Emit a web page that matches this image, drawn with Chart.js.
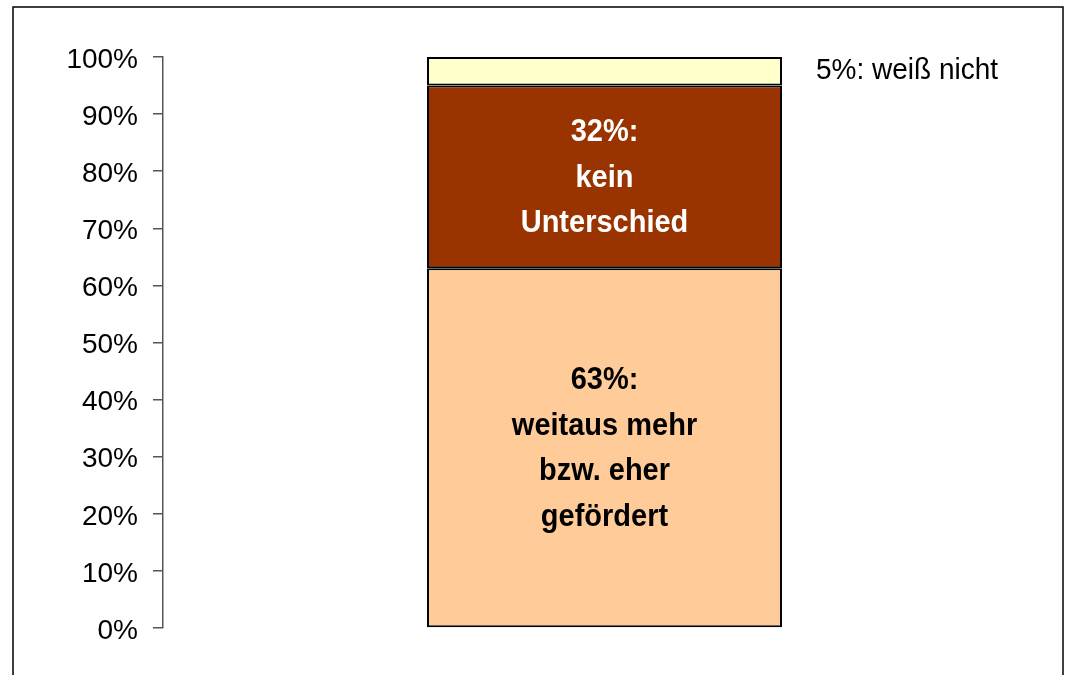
<!DOCTYPE html>
<html>
<head>
<meta charset="utf-8">
<script src="https://cdn.jsdelivr.net/npm/chart.js@4"></script>
<style>
  html, body { margin: 0; padding: 0; background: #fff; }
  #wrap { width: 1065px; height: 675px; position: relative; }
</style>
</head>
<body>
<div id="wrap"><canvas id="c" width="1065" height="675"></canvas></div>
<script>
const categories = [''];
const seriesNames = ['weitaus mehr bzw. eher gefördert', 'kein Unterschied', 'weiß nicht'];
const valuesGefoerdert = [63];
const valuesKeinUnterschied = [32];
const valuesWeissNicht = [5];
const insideLabelsGefoerdert = ['63%:', 'weitaus mehr', 'bzw. eher', 'gefördert'];
const insideLabelsKeinUnterschied = ['32%:', 'kein', 'Unterschied'];
const outsideLabelWeissNicht = '5%: weiß nicht';
const yTicks = [0, 10, 20, 30, 40, 50, 60, 70, 80, 90, 100];

const FONT = '"Liberation Sans", Arial, sans-serif';

const framePlugin = {
  id: 'frame',
  beforeDraw(chart) {
    const ctx = chart.ctx;
    ctx.save();
    ctx.strokeStyle = '#000';
    ctx.lineWidth = 1.5;
    ctx.beginPath();
    ctx.moveTo(13, 680);
    ctx.lineTo(13, 7);
    ctx.lineTo(1063, 7);
    ctx.lineTo(1063, 680);
    ctx.stroke();
    ctx.restore();
  }
};

function stretchedText(ctx, text, x, y, sy) {
  ctx.save();
  ctx.translate(x, y);
  ctx.scale(1, sy);
  ctx.fillText(text, 0, 0);
  ctx.restore();
}

const labelPlugin = {
  id: 'segLabels',
  afterDatasetsDraw(chart) {
    const ctx = chart.ctx;
    ctx.save();
    ctx.textBaseline = 'middle';
    chart.data.datasets.forEach((ds, i) => {
      const meta = chart.getDatasetMeta(i);
      meta.data.forEach((el) => {
        const cy = (el.y + el.base) / 2;
        if (ds.insideLines) {
          ctx.font = 'bold 29px ' + FONT;
          ctx.fillStyle = ds.textColor;
          ctx.textAlign = 'center';
          const n = ds.insideLines.length;
          const lh = 45.5;
          ds.insideLines.forEach((t, k) => {
            stretchedText(ctx, t, el.x, cy + (k - (n - 1) / 2) * lh + 1, 1.1);
          });
        }
        if (ds.outsideLabel) {
          ctx.font = '28px ' + FONT;
          ctx.fillStyle = '#000';
          ctx.textAlign = 'left';
          stretchedText(ctx, ds.outsideLabel, el.x + el.width / 2 + 34, cy - 1, 1.08);
        }
      });
    });
    ctx.restore();
  }
};

new Chart(document.getElementById('c'), {
  type: 'bar',
  data: {
    labels: categories,
    datasets: [
      { label: seriesNames[0], data: valuesGefoerdert, backgroundColor: '#FFCC99', borderColor: '#000', borderWidth: 2, borderSkipped: false, insideLines: insideLabelsGefoerdert, textColor: '#000' },
      { label: seriesNames[1], data: valuesKeinUnterschied, backgroundColor: '#993300', borderColor: '#000', borderWidth: 2, borderSkipped: false, insideLines: insideLabelsKeinUnterschied, textColor: '#fff' },
      { label: seriesNames[2], data: valuesWeissNicht, backgroundColor: '#FFFFCC', borderColor: '#000', borderWidth: 2, borderSkipped: false, outsideLabel: outsideLabelWeissNicht }
    ]
  },
  options: {
    responsive: false,
    animation: false,
    devicePixelRatio: 1,
    layout: { padding: { top: 57, bottom: 47, left: 0, right: 19 } },
    datasets: { bar: { barPercentage: 1, categoryPercentage: 0.402 } },
    plugins: { legend: { display: false }, tooltip: { enabled: false } },
    scales: {
      x: { display: false, stacked: true },
      y: {
        stacked: true,
        min: 0,
        max: 100,
        afterFit(scale) { scale.width = 163; },
        afterBuildTicks(scale) { scale.ticks = yTicks.map(v => ({ value: v })); },
        ticks: {
          padding: 15,
          labelOffset: 3,
          color: '#000',
          font: { family: FONT, size: 28 },
          callback: (v) => v + '%'
        },
        grid: { drawOnChartArea: false, drawTicks: true, tickLength: 10, color: '#555', lineWidth: 1.5 },
        border: { display: true, color: '#555', width: 1.5 }
      }
    }
  },
  plugins: [framePlugin, labelPlugin]
});
</script>
</body>
</html>
